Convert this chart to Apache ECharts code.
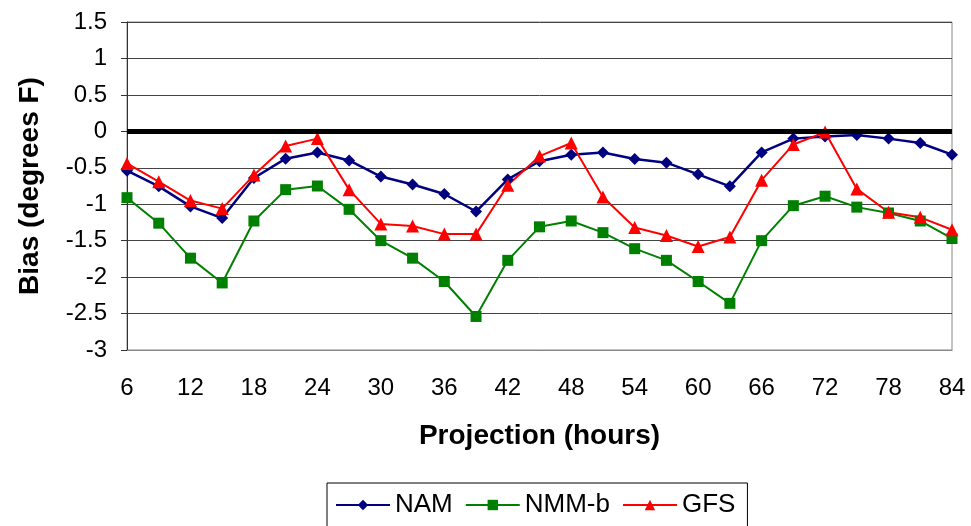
<!DOCTYPE html>
<html>
<head>
<meta charset="utf-8">
<script src="https://cdn.jsdelivr.net/npm/echarts@6/dist/echarts.min.js"></script>
<style>
  html, body { margin: 0; padding: 0; background: #fff; }
  #chart { width: 971px; height: 526px; }
</style>
</head>
<body>
<div id="chart"></div>
<script>
var hours = ['6','9','12','15','18','21','24','27','30','33','36','39','42','45','48','51','54','57','60','63','66','69','72','75','78','81','84'];
var nam = [-0.54,-0.755,-1.03,-1.19,-0.64,-0.375,-0.29,-0.40,-0.62,-0.73,-0.86,-1.10,-0.66,-0.41,-0.32,-0.29,-0.38,-0.43,-0.59,-0.755,-0.29,-0.10,-0.07,-0.05,-0.10,-0.16,-0.32];
var nmmb = [-0.91,-1.26,-1.74,-2.08,-1.23,-0.80,-0.75,-1.07,-1.50,-1.74,-2.06,-2.54,-1.77,-1.31,-1.23,-1.39,-1.61,-1.77,-2.06,-2.36,-1.50,-1.02,-0.89,-1.04,-1.12,-1.23,-1.47];
var gfs = [-0.44,-0.69,-0.95,-1.06,-0.60,-0.20,-0.10,-0.80,-1.27,-1.30,-1.41,-1.41,-0.74,-0.34,-0.16,-0.90,-1.32,-1.43,-1.58,-1.45,-0.67,-0.18,-0.01,-0.79,-1.11,-1.18,-1.35];

var font = 'Liberation Sans, Arial, sans-serif';

var option = {
    animation: false,
    grid: {
        left: 127, right: 19, top: 22, bottom: 176,
        show: true, borderColor: '#888', borderWidth: 1
    },
    legend: {
        left: 327, top: 483,
        padding: [9, 12, 30, 8],
        borderColor: '#000', borderWidth: 1,
        itemWidth: 54, itemHeight: 13, itemGap: 12,
        textStyle: { fontFamily: font, fontSize: 26, color: '#000' },
        data: ['NAM', 'NMM-b', 'GFS']
    },
    xAxis: {
        type: 'category',
        data: hours,
        boundaryGap: false,
        name: 'Projection (hours)',
        nameLocation: 'middle',
        nameGap: 72,
        nameTextStyle: { fontFamily: font, fontSize: 28, fontWeight: 'bold', color: '#000' },
        axisLine: { onZero: false, lineStyle: { color: '#888' } },
        axisTick: { show: false },
        axisLabel: { interval: 1, margin: 26, fontFamily: font, fontSize: 24, color: '#000' },
        splitLine: { show: false }
    },
    yAxis: {
        type: 'value',
        min: -3, max: 1.5, interval: 0.5,
        name: 'Bias (degrees F)',
        nameLocation: 'middle',
        nameGap: 83,
        nameTextStyle: { fontFamily: font, fontSize: 28, fontWeight: 'bold', color: '#000' },
        axisLine: { show: true, lineStyle: { color: '#333' } },
        axisTick: { show: true, length: 6, lineStyle: { color: '#333' } },
        axisLabel: { margin: 20, fontFamily: font, fontSize: 24, color: '#000' },
        splitLine: { lineStyle: { color: '#444', width: 1 } }
    },
    series: [{
        name: 'NAM',
        type: 'line',
        data: nam,
        symbol: 'diamond',
        symbolSize: 12,
        color: '#000080',
        lineStyle: { width: 2.5, color: '#000080' },
        markLine: {
            silent: true,
            symbol: 'none',
            label: { show: false },
            lineStyle: { color: '#000', width: 5, type: 'solid' },
            data: [{ yAxis: 0 }]
        }
    }, {
        name: 'NMM-b',
        type: 'line',
        data: nmmb,
        symbol: 'rect',
        symbolSize: 11,
        color: '#008000',
        lineStyle: { width: 2, color: '#008000' }
    }, {
        name: 'GFS',
        type: 'line',
        data: gfs,
        symbol: 'triangle',
        symbolSize: 13,
        color: '#ff0000',
        lineStyle: { width: 2, color: '#ff0000' }
    }]
};
var myChart = echarts.init(document.getElementById('chart'));
myChart.setOption(option);
</script>
</body>
</html>
